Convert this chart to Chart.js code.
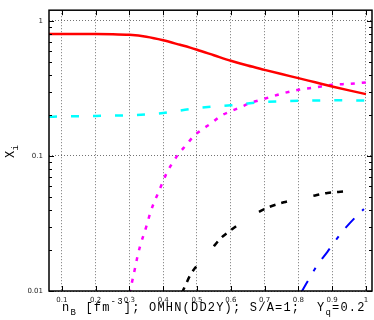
<!DOCTYPE html>
<html>
<head>
<meta charset="utf-8">
<script src="https://cdn.jsdelivr.net/npm/chart.js@4/dist/chart.umd.min.js"></script>
<style>
  html, body { margin: 0; padding: 0; background: #fff; }
  #wrap { width: 374px; height: 320px; }
</style>
</head>
<body>
<div id="wrap"><canvas id="c" width="374" height="320"></canvas></div>
<script>
// Particle fractions X_i versus baryon density n_B
const xTicks = [0.1, 0.2, 0.3, 0.4, 0.5, 0.6, 0.7, 0.8, 0.9, 1.0];
const xTickLabels = ['0.1', '0.2', '0.3', '0.4', '0.5', '0.6', '0.7', '0.8', '0.9', '1'];
const yTicks = [0.01, 0.1, 1];
const yTickLabels = ['0.01', '0.1', '1'];

// red, solid
const redX = [0.062, 0.1, 0.15, 0.2, 0.25, 0.3, 0.35, 0.4, 0.45, 0.48, 0.5, 0.55, 0.6, 0.65, 0.7, 0.75, 0.8, 0.85, 0.9, 0.95, 1.0];
const redY = [0.80, 0.80, 0.80, 0.80, 0.798, 0.788, 0.762, 0.718, 0.665, 0.634, 0.612, 0.557, 0.507, 0.467, 0.434, 0.404, 0.377, 0.351, 0.327, 0.306, 0.287];

// cyan, dashed
const cyanX = [0.062, 0.1, 0.2, 0.3, 0.35, 0.4, 0.45, 0.5, 0.55, 0.6, 0.65, 0.7, 0.75, 0.8, 0.85, 0.9, 0.95, 1.0];
const cyanY = [0.195, 0.196, 0.198, 0.200, 0.203, 0.208, 0.217, 0.226, 0.232, 0.237, 0.245, 0.251, 0.254, 0.256, 0.257, 0.258, 0.258, 0.257];

// magenta, dotted
const magX = [0.300, 0.302, 0.310, 0.317, 0.324, 0.331, 0.351, 0.361, 0.373, 0.386, 0.398, 0.411, 0.425, 0.445, 0.47, 0.49, 0.515, 0.544, 0.569, 0.599, 0.628, 0.658, 0.7, 0.75, 0.8, 0.85, 0.9, 0.95, 1.0];
const magY = [0.0096, 0.010, 0.0124, 0.0149, 0.0181, 0.0212, 0.0306, 0.0373, 0.0454, 0.0537, 0.0636, 0.0754, 0.0869, 0.103, 0.122, 0.140, 0.157, 0.176, 0.197, 0.214, 0.229, 0.247, 0.265, 0.289, 0.309, 0.322, 0.336, 0.342, 0.350];

// black, dashed groups
const blackX = [0.455, 0.458, 0.48, 0.505, 0.54, 0.569, 0.599, 0.633, 0.67, 0.712, 0.757, 0.801, 0.85, 0.886, 0.925, 0.96, 0.99];
const blackY = [0.0097, 0.010, 0.0131, 0.016, 0.020, 0.0244, 0.0281, 0.0324, 0.037, 0.0417, 0.0454, 0.0481, 0.051, 0.0532, 0.0543, 0.0549, 0.0552];

// blue, dash-dot
const blueX = [0.809, 0.811, 0.856, 0.886, 0.905, 0.935, 0.969, 0.994];
const blueY = [0.0098, 0.010, 0.0155, 0.0195, 0.0227, 0.0284, 0.0352, 0.0405];

const pts = (xs, ys) => xs.map((x, i) => ({ x: x, y: ys[i] }));

function series(xs, ys, color, width, dash) {
  return {
    data: pts(xs, ys),
    borderColor: color,
    backgroundColor: color,
    borderWidth: width,
    borderDash: dash,
    pointRadius: 0,
    fill: false,
    cubicInterpolationMode: 'monotone',
    borderCapStyle: 'butt'
  };
}

const MAIN_FONT = '12px "Liberation Mono", monospace';
const SMALL_FONT = '9px "Liberation Mono", monospace';

// Frame, inward tick marks and axis titles with sub/superscripts
const decorations = {
  id: 'decorations',
  afterDraw(chart) {
    const ctx = chart.ctx;
    const a = chart.chartArea;
    const xs = chart.scales.x, ys = chart.scales.y;
    ctx.save();
    ctx.strokeStyle = '#000';
    ctx.lineWidth = 1;
    ctx.beginPath();
    // major x ticks on bottom and top
    xTicks.forEach(v => {
      const px = Math.round(xs.getPixelForValue(v)) + 0.5;
      ctx.moveTo(px, a.bottom); ctx.lineTo(px, a.bottom - 5);
      ctx.moveTo(px, a.top); ctx.lineTo(px, a.top + 5);
    });
    // major and minor y ticks on left and right
    for (let dec = 0.01; dec < 1.5; dec *= 10) {
      for (let m = 1; m <= 9; m++) {
        const v = dec * m;
        if (v < ys.min - 1e-9 || v > ys.max) continue;
        const py = Math.round(ys.getPixelForValue(v)) + 0.5;
        const len = m === 1 ? 5 : 3;
        ctx.moveTo(a.left, py); ctx.lineTo(a.left + len, py);
        ctx.moveTo(a.right, py); ctx.lineTo(a.right - len, py);
      }
    }
    ctx.stroke();
    // frame
    ctx.lineWidth = 1.5;
    ctx.strokeRect(a.left, a.top, a.right - a.left, a.bottom - a.top);

    // x axis title
    ctx.fillStyle = '#000';
    ctx.textBaseline = 'alphabetic';
    ctx.textAlign = 'left';
    try { ctx.letterSpacing = '1.2px'; } catch (e) {}
    const runs = [
      { t: 'n' }, { t: 'B', s: 1 }, { t: ' [fm' }, { t: '-3', s: -1 },
      { t: ']; OMHN(DD2Y); S/A=1;  Y' }, { t: 'q', s: 1 }, { t: '=0.2' }
    ];
    let x = 62;
    const base = 311;
    runs.forEach(r => {
      ctx.font = r.s ? SMALL_FONT : MAIN_FONT;
      const y = r.s === 1 ? base + 4 : (r.s === -1 ? base - 7 : base);
      ctx.fillText(r.t, x, y);
      x += ctx.measureText(r.t).width;
    });

    // y axis title, rotated
    ctx.translate(14, 158);
    ctx.rotate(-Math.PI / 2);
    ctx.font = MAIN_FONT;
    ctx.fillText('X', 0, 0);
    const w = ctx.measureText('X').width;
    ctx.font = SMALL_FONT;
    ctx.fillText('i', w - 1, 4);
    ctx.restore();
  }
};

new Chart(document.getElementById('c'), {
  type: 'line',
  data: {
    datasets: [
      series(redX, redY, '#ff0000', 2.5, []),
      series(cyanX, cyanY, '#00ffff', 2.5, [8, 14]),
      series(magX, magY, '#ff00ff', 2.5, [4, 7]),
      series(blackX, blackY, '#000000', 2.5, [6, 6, 6, 6, 6, 27]),
      series(blueX, blueY, '#0000ff', 2, [13, 11, 4, 11])
    ]
  },
  options: {
    responsive: false,
    devicePixelRatio: 1,
    animation: false,
    layout: { padding: { top: 8, right: 2, left: 0, bottom: 0 } },
    plugins: { legend: { display: false }, tooltip: { enabled: false } },
    scales: {
      x: {
        type: 'linear',
        min: 0.062,
        max: 1.018,
        afterBuildTicks: s => { s.ticks = xTicks.map(v => ({ value: v })); },
        afterFit: s => { s.height = 29; },
        ticks: {
          autoSkip: false,
          maxRotation: 0,
          padding: 5,
          color: '#222',
          font: { family: 'DejaVu Sans', size: 7 },
          callback: (v) => {
            const i = xTicks.findIndex(t => Math.abs(t - v) < 1e-9);
            return i >= 0 ? xTickLabels[i] : '';
          }
        },
        grid: { color: 'rgba(0,0,0,0.55)', drawTicks: false, lineWidth: 1 },
        border: { display: false, dash: [1, 2] }
      },
      y: {
        type: 'logarithmic',
        min: 0.01,
        max: 1.2,
        afterBuildTicks: s => { s.ticks = yTicks.map(v => ({ value: v })); },
        afterFit: s => { s.width = 49; },
        ticks: {
          autoSkip: false,
          padding: 6,
          color: '#222',
          font: { family: 'DejaVu Sans', size: 7 },
          callback: (v) => {
            const i = yTicks.findIndex(t => Math.abs(t - v) < 1e-12);
            return i >= 0 ? yTickLabels[i] : '';
          }
        },
        grid: { color: 'rgba(0,0,0,0.55)', drawTicks: false, lineWidth: 1 },
        border: { display: false, dash: [1, 2] }
      }
    }
  },
  plugins: [decorations]
});
</script>
</body>
</html>
